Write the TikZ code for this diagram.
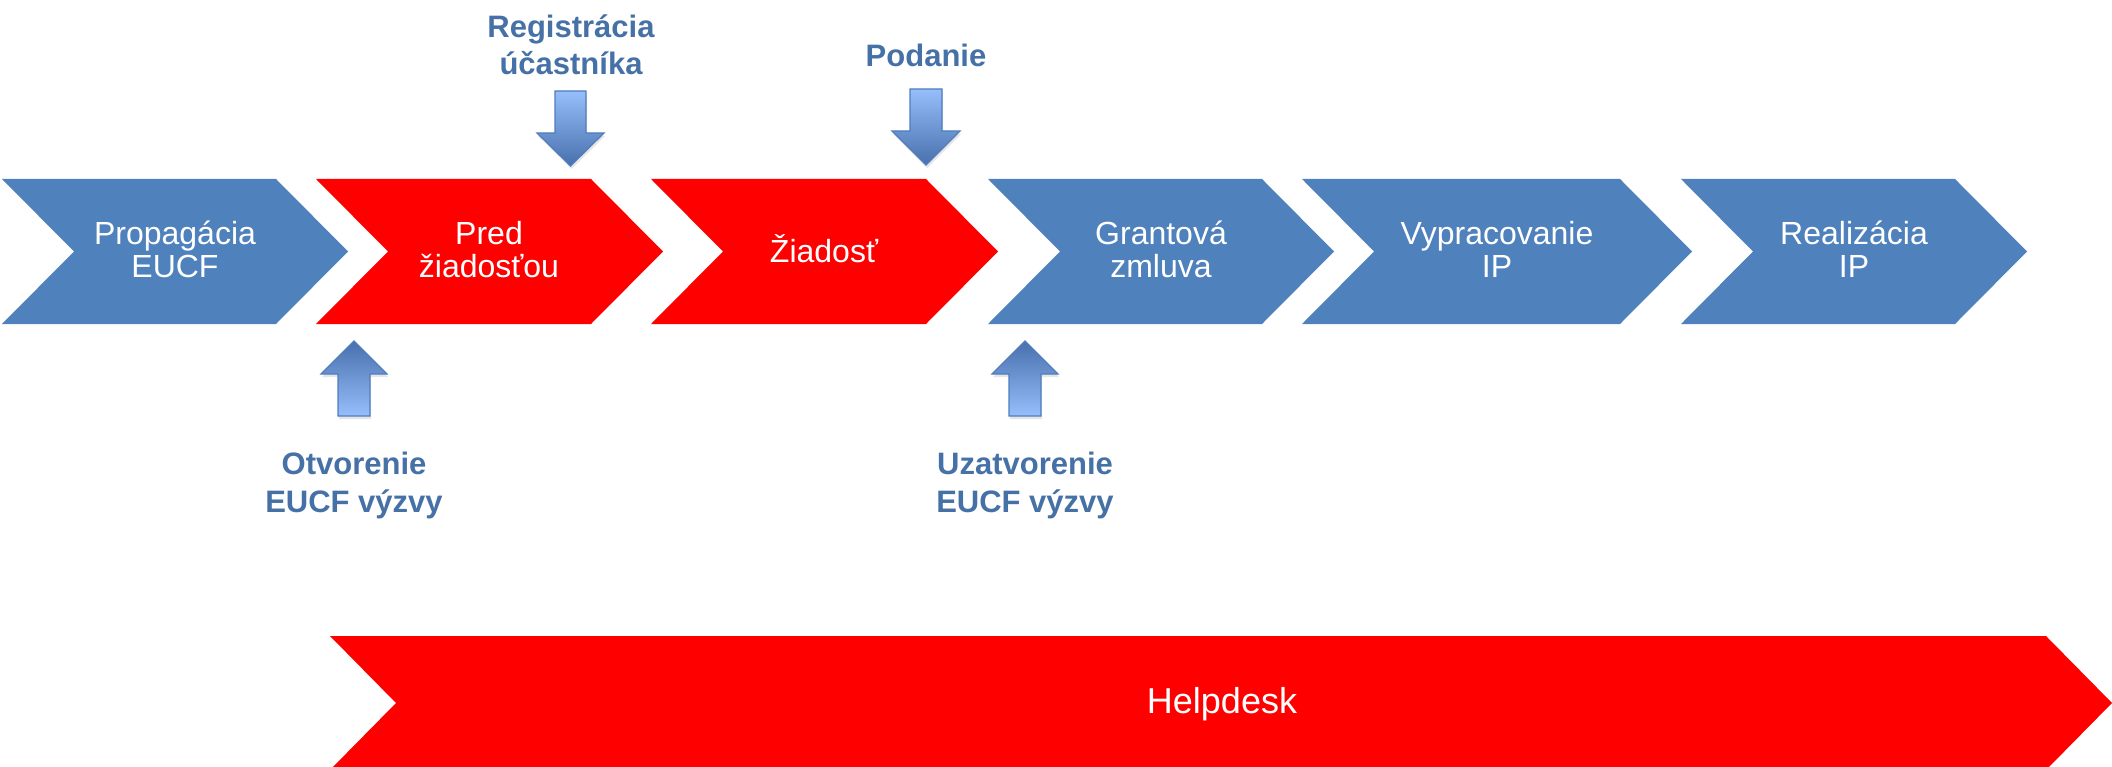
\documentclass[tikz,border=0pt]{standalone}
\usepackage{fontspec}
\setmainfont{Liberation Sans}
\usetikzlibrary{shadows}
\definecolor{chevblue}{RGB}{79,129,189}
\definecolor{chevred}{RGB}{255,0,0}
\definecolor{labblue}{RGB}{70,113,166}
\definecolor{arrlight}{RGB}{150,190,250}
\definecolor{arrdark}{RGB}{72,112,172}
\definecolor{arredge}{RGB}{80,125,190}
\tikzset{
  chevtext/.style={text=white, align=center, anchor=base,
    font=\fontsize{32}{33}\selectfont, inner sep=0pt},
  labtext/.style={text=labblue, align=center, anchor=base,
    font=\fontsize{31}{37.5}\selectfont\bfseries, inner sep=0pt},
  helptext/.style={text=white, anchor=base,
    font=\fontsize{36}{40}\selectfont, inner sep=0pt},
  downarrow/.style={top color=arrlight, bottom color=arrdark, draw=arredge, line width=1.2pt,
    drop shadow={opacity=0.2, shadow xshift=1pt, shadow yshift=-3pt}},
  uparrow/.style={top color=arrdark, bottom color=arrlight, draw=arredge, line width=1.2pt,
    drop shadow={opacity=0.2, shadow xshift=1pt, shadow yshift=-3pt}},
}
\newcommand\mychev[4]{%
  \fill[#1] (#2,179) -- (#3,179) -- ({#3+#4},251.5) -- (#3,324) -- (#2,324) -- ({#2+#4},251.5) -- cycle;}
\begin{document}
\begin{tikzpicture}[x=1pt,y=-1pt]
\useasboundingbox (0,0) rectangle (2112,767);
\fill[white] (0,0) rectangle (2112,767);
% chevrons
\mychev{chevblue}{2}{276}{72}
\mychev{chevred}{316}{591}{72}
\mychev{chevred}{651}{926}{72}
\mychev{chevblue}{988}{1262}{72}
\mychev{chevblue}{1302}{1620}{72}
\mychev{chevblue}{1681}{1955}{72}
\node[chevtext] (c1) at (175,278) {Propagácia\\EUCF};
\node[chevtext] (c2) at (489,278) {Pred\\žiadosťou};
\node[chevtext] (c3) at (824,263) {Žiadosť};
\node[chevtext] (c4) at (1161,278) {Grantová\\zmluva};
\node[chevtext] (c5) at (1497,278) {Vypracovanie\\IP};
\node[chevtext] (c6) at (1854,278) {Realizácia\\IP};
% helpdesk
\fill[chevred] (330,636) -- (2046,636) -- (2112,703) -- (2046,770) -- (330,770) -- (396,703) -- cycle;
\node[helptext] (hd) at (1222,713) {Helpdesk};
% down arrows
\path[downarrow] (555,91) -- (586,91) -- (586,133) -- (604,133) -- (570.5,166) -- (537,133) -- (555,133) -- cycle;
\path[downarrow] (910,89) -- (942,89) -- (942,131) -- (960,131) -- (926,165) -- (892,131) -- (910,131) -- cycle;
% up arrows
\path[uparrow] (354,341) -- (387,374) -- (370,374) -- (370,416) -- (338,416) -- (338,374) -- (321,374) -- cycle;
\path[uparrow] (1025,341) -- (1058,374) -- (1041,374) -- (1041,416) -- (1009,416) -- (1009,374) -- (992,374) -- cycle;
% labels
\node[labtext] (l1) at (571,75) {Registrácia\\účastníka};
\node[labtext] (l2) at (926,67) {Podanie};
\node[labtext] (l3) at (354,512) {Otvorenie\\EUCF výzvy};
\node[labtext] (l4) at (1025,512) {Uzatvorenie\\EUCF výzvy};
\end{tikzpicture}
\end{document}
